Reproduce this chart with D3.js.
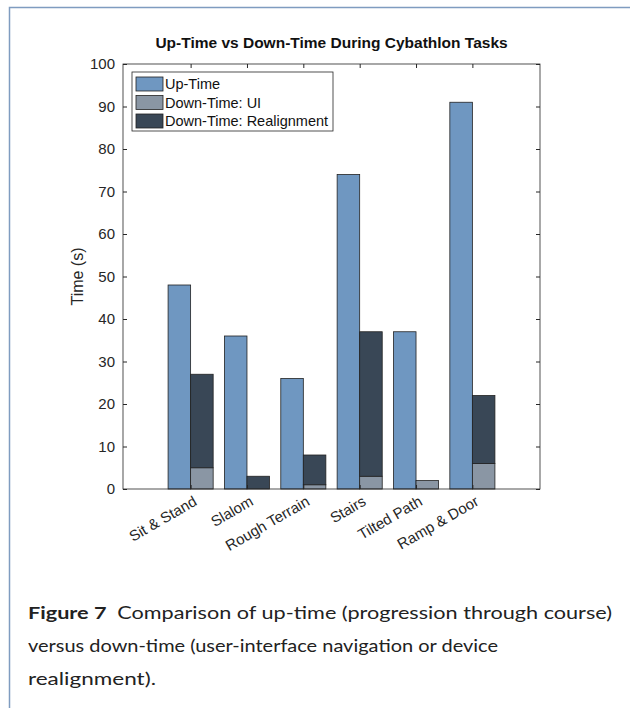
<!DOCTYPE html>
<html><head><meta charset="utf-8">
<script src="https://cdn.jsdelivr.net/npm/d3@7/dist/d3.min.js"></script>
<style>
html,body{margin:0;padding:0;background:#fff;}
svg{display:block;}
</style></head>
<body>
<svg id="chart" width="630" height="708"></svg>
<script>
const categories = ["Sit & Stand","Slalom","Rough Terrain","Stairs","Tilted Path","Ramp & Door"];
const upTime = [48,36,26,74,37,91];
const downUI = [5,0,1,3,2,6];
const downRealign = [22,3,7,34,0,16];
const yTicks = [0,10,20,30,40,50,60,70,80,90,100];
const seriesNames = ["Up-Time","Down-Time: UI","Down-Time: Realignment"];
const colors = ["#6f97c1","#8a96a4","#394756"];

const svg = d3.select("#chart");
const font = "'Liberation Sans', Arial, Helvetica, sans-serif";

// page frame
svg.append("path").attr("d","M9.5,708 V7.5 H630").attr("fill","none").attr("stroke","#7f9cc0").attr("stroke-width",1.5);

const L=123, R=540, T=64, B=489;
const x = d3.scaleLinear().domain([-0.2, 7.2]).range([L,R]);
const y = d3.scaleLinear().domain([0,100]).range([B,T]);
const bw = 0.4;

const g = svg.append("g");

// bars
const data = categories.map((c,i)=>({c, i:i+1, up:upTime[i], ui:downUI[i], re:downRealign[i]}));
g.selectAll("rect.up").data(data).enter().append("rect")
  .attr("x", d=>x(d.i-bw)).attr("width", d=>x(d.i)-x(d.i-bw))
  .attr("y", d=>y(d.up)).attr("height", d=>y(0)-y(d.up))
  .attr("fill", colors[0]).attr("stroke","#222").attr("stroke-width",0.8);
g.selectAll("rect.ui").data(data.filter(d=>d.ui>0)).enter().append("rect")
  .attr("x", d=>x(d.i)).attr("width", d=>x(d.i+bw)-x(d.i))
  .attr("y", d=>y(d.ui)).attr("height", d=>y(0)-y(d.ui))
  .attr("fill", colors[1]).attr("stroke","#222").attr("stroke-width",0.8);
g.selectAll("rect.re").data(data.filter(d=>d.re>0)).enter().append("rect")
  .attr("x", d=>x(d.i)).attr("width", d=>x(d.i+bw)-x(d.i))
  .attr("y", d=>y(d.ui+d.re)).attr("height", d=>y(d.ui)-y(d.ui+d.re))
  .attr("fill", colors[2]).attr("stroke","#222").attr("stroke-width",0.8);

// axes box
const axCol = "#262626";
g.append("rect").attr("x",L).attr("y",T).attr("width",R-L).attr("height",B-T)
  .attr("fill","none").attr("stroke",axCol).attr("stroke-width",0.8);

// y axis ticks (inward) left and right
const yAxisL = d3.axisLeft(y).tickValues(yTicks).tickSizeInner(-4).tickSizeOuter(0).tickPadding(8);
const ga = svg.append("g").attr("transform",`translate(${L},0)`).call(yAxisL);
ga.select(".domain").remove();
ga.selectAll("line").attr("stroke",axCol);
ga.selectAll("text").attr("font-family",font).attr("font-size",15).attr("fill",axCol);
const yAxisR = d3.axisRight(y).tickValues(yTicks).tickSizeInner(-4).tickSizeOuter(0).tickFormat("");
const gr = svg.append("g").attr("transform",`translate(${R},0)`).call(yAxisR);
gr.select(".domain").remove();
gr.selectAll("line").attr("stroke",axCol);

// x axis ticks
const xt = data.map(d=>d.i);
const xAxisB = d3.axisBottom(x).tickValues(xt).tickSizeInner(-4).tickSizeOuter(0).tickFormat("");
const gb = svg.append("g").attr("transform",`translate(0,${B})`).call(xAxisB);
gb.select(".domain").remove();
gb.selectAll("line").attr("stroke",axCol);
const xAxisT = d3.axisTop(x).tickValues(xt).tickSizeInner(-4).tickSizeOuter(0).tickFormat("");
const gt = svg.append("g").attr("transform",`translate(0,${T})`).call(xAxisT);
gt.select(".domain").remove();
gt.selectAll("line").attr("stroke",axCol);

// x labels rotated
svg.selectAll("text.xl").data(data).enter().append("text")
  .attr("transform", d=>`translate(${x(d.i)+2},${B+6}) rotate(-30)`)
  .attr("text-anchor","end").attr("dy","0.72em")
  .attr("font-family",font).attr("font-size",15).attr("fill",axCol)
  .text(d=>d.c);

// y label
svg.append("text").attr("transform",`translate(83,${(T+B)/2}) rotate(-90)`)
  .attr("text-anchor","middle").attr("font-family",font).attr("font-size",16).attr("fill",axCol)
  .text("Time (s)");

// title
svg.append("text").attr("x",(L+R)/2).attr("y",48).attr("text-anchor","middle")
  .attr("font-family",font).attr("font-size",15.5).attr("font-weight","bold").attr("fill","#111")
  .text("Up-Time vs Down-Time During Cybathlon Tasks");

// legend
const lg = svg.append("g");
lg.append("rect").attr("x",132).attr("y",72).attr("width",201).attr("height",59)
  .attr("fill","#fff").attr("stroke",axCol).attr("stroke-width",0.8);
seriesNames.forEach((s,k)=>{
  const cy = 84 + k*18.5;
  lg.append("rect").attr("x",136).attr("y",cy-7).attr("width",27).attr("height",14)
    .attr("fill",colors[k]).attr("stroke","#222").attr("stroke-width",0.8);
  lg.append("text").attr("x",165).attr("y",cy).attr("dy","0.35em")
    .attr("font-family",font).attr("font-size",14.5).attr("fill","#111").text(s);
});

// caption
const capFont = "Lato, 'Open Sans', sans-serif";
const c1 = svg.append("text").attr("x",28).attr("y",619).attr("font-family",capFont).attr("font-size",17).attr("fill","#222")
  .attr("textLength",584).attr("lengthAdjust","spacingAndGlyphs");
c1.append("tspan").attr("font-weight","bold").text("Figure 7");
c1.append("tspan").text("\u2002Comparison of up-time (progression through course)");
svg.append("text").attr("x",28).attr("y",652).attr("font-family",capFont).attr("font-size",17).attr("fill","#222")
  .attr("textLength",470).attr("lengthAdjust","spacingAndGlyphs")
  .text("versus down-time (user-interface navigation or device");
svg.append("text").attr("x",28).attr("y",685).attr("font-family",capFont).attr("font-size",17).attr("fill","#222")
  .attr("textLength",128).attr("lengthAdjust","spacingAndGlyphs")
  .text("realignment).");
</script>
</body></html>
